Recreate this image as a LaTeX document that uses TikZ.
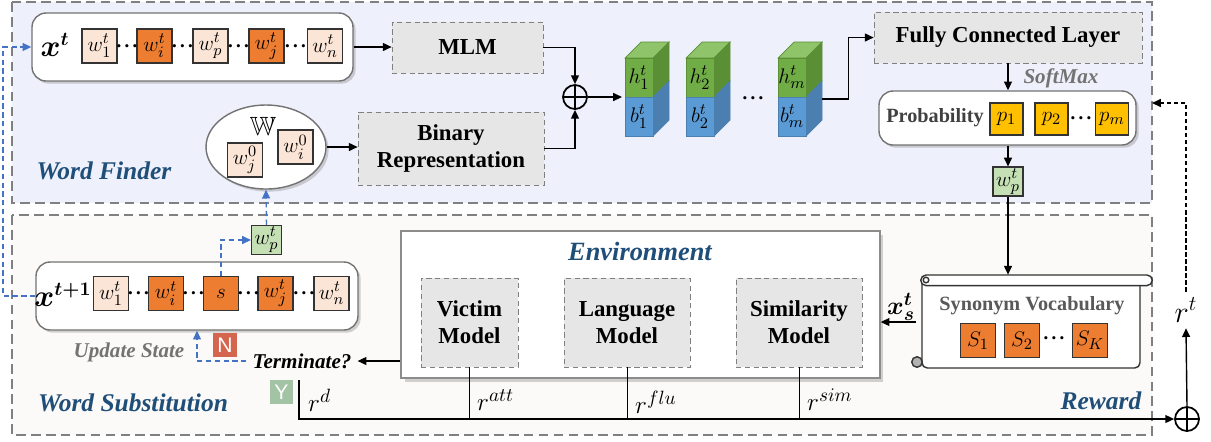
\documentclass[tikz,border=0pt]{standalone}
\usepackage{fontspec}
\usepackage{amsmath,amssymb,bm}
\setmainfont{Liberation Serif}
\setsansfont{Liberation Sans}
\usetikzlibrary{positioning,shapes.geometric,shadows,arrows.meta,calc}

\definecolor{finderbg}{HTML}{EEF0FB}
\definecolor{substbg}{HTML}{FBFAF8}
\definecolor{wlight}{HTML}{FBE5D6}
\definecolor{wdark}{HTML}{ED7D31}
\definecolor{wgreen}{HTML}{C5E0B4}
\definecolor{pgold}{HTML}{FFC000}
\definecolor{modelbg}{HTML}{E7E6E6}
\definecolor{dashblue}{HTML}{4472C4}
\definecolor{titleblue}{HTML}{1F4E79}
\definecolor{cubegreen}{HTML}{70AD47}
\definecolor{cubegreentop}{HTML}{8FC46A}
\definecolor{cubegreenside}{HTML}{5A8F36}
\definecolor{cubeblue}{HTML}{5B9BD5}
\definecolor{cubeblueside}{HTML}{4A7FB0}
\definecolor{notag}{HTML}{D4664F}
\definecolor{yestag}{HTML}{A2C3A4}

\tikzset{
  panel/.style={draw=gray, line width=1.1pt, dash pattern=on 5.5pt off 3pt},
  paneltitle/.style={font=\fontsize{14.5}{16}\selectfont\bfseries\itshape, text=titleblue},
  graylbl/.style={font=\fontsize{12}{14}\selectfont\bfseries\itshape, text=black!55},
  seqbox/.style={draw=black!55, line width=0.8pt, rounded corners=8pt, fill=white,
    drop shadow={shadow xshift=1.5pt, shadow yshift=-1.5pt, opacity=0.35}},
  word/.style={draw=black!80, line width=0.6pt, fill=wlight, minimum width=0.7cm,
    minimum height=0.68cm, inner sep=0pt, font=\fontsize{13}{15}\selectfont},
  wordhot/.style={word, fill=wdark},
  wordsel/.style={word, fill=wgreen, minimum width=0.6cm, minimum height=0.58cm},
  prob/.style={word, fill=pgold, minimum width=0.66cm, minimum height=0.64cm},
  model/.style={draw=black!50, dash pattern=on 3pt off 2pt, fill=modelbg, align=center,
    font=\fontsize{13}{15.5}\selectfont\bfseries},
  flow/.style={thick, -{Triangle[length=5pt,width=4.5pt]}},
  blueflow/.style={draw=dashblue, thick, dash pattern=on 3pt off 2pt,
    -{Triangle[length=5pt,width=4.5pt]}},
  tag/.style={text=white, font=\sffamily\fontsize{12}{12}\selectfont, minimum size=0.47cm, inner sep=0pt},
  dotsym/.style={inner sep=0pt, font=\fontsize{12}{14}\selectfont},
  sumnode/.style={circle, draw, line width=1pt, minimum size=0.48cm, inner sep=0pt,
    path picture={\draw[line width=1pt] (path picture bounding box.north) -- (path picture bounding box.south)
      (path picture bounding box.west) -- (path picture bounding box.east);}},
}
\newcommand{\tightdots}{$\bm{\cdot\!\cdot\!\cdot}$}

\begin{document}
\begin{tikzpicture}[x=0.02cm, y=-0.02cm]
  \useasboundingbox (0,0) rectangle (1211,441);

  % the two panels
  \draw[panel, fill=finderbg] (12,2) rectangle (1152,203);
  \draw[panel, fill=substbg] (12,215) rectangle (1152,435);
  \node[paneltitle] (finderlbl) at (104,171) {Word Finder};
  \node[paneltitle] (substlbl) at (133,403) {Word Substitution};
  \node[paneltitle] (rewardlbl) at (1101,401) {Reward};

  % state x^t
  \node[seqbox, minimum width=6.42cm, minimum height=1.36cm] (xt) at (192.5,47) {};
  \node[font=\fontsize{16}{18}\selectfont] (xtlbl) at (55,45) {$\bm{x}^{\bm{t}}$};
  \node[word] (xw1) at (99.5,46) {$w_1^t$};
  \node[wordhot] (xwi) at (154.5,46) {$w_i^t$};
  \node[word] (xwp) at (210.5,46) {$w_p^t$};
  \node[wordhot] (xwj) at (266.5,46) {$w_j^t$};
  \node[word] (xwn) at (325,46) {$w_n^t$};
  \foreach \dx in {127,182.5,238.5,295.5}
    \node[dotsym] at (\dx,46) {\tightdots};

  % word set W
  \node[ellipse, draw=black!55, line width=0.8pt, fill=white, minimum width=2.4cm, minimum height=1.68cm,
    drop shadow={shadow xshift=1.5pt, shadow yshift=-1.5pt, opacity=0.35}] (wset) at (266,147) {};
  \node[font=\fontsize{15}{17}\selectfont, inner sep=1pt] (wbb) at (263,126) {$\mathbb{W}$};
  \node[word] (w0j) at (245,160) {$w_j^0$};
  \node[word] (w0i) at (295.5,147) {$w_i^0$};

  % encoders
  \node[model, minimum width=3.02cm, minimum height=1.02cm] (mlm) at (467.5,47.5) {MLM};
  \node[model, minimum width=3.72cm, minimum height=1.46cm] (binrep) at (451,148.5) {Binary\\Representation};
  \node[sumnode] (sum) at (575,97) {};

  \draw[flow] (xt.east) -- (xt.east -| mlm.west);
  \draw[flow] (wset.east) -- (wset.east -| binrep.west);
  \draw[flow] (mlm.east) -| (sum.north);
  \draw[flow] (binrep.east) -| (sum.south);

  % hidden and binary cubes
  \foreach \cx/\k in {625/1, 686/2, 778/m}{
    \fill[cubegreentop, draw=cubegreenside] (\cx,58) -- (\cx+16,42) -- (\cx+44,42) -- (\cx+28,58) -- cycle;
    \fill[cubegreenside, draw=cubegreenside] (\cx+28,58) -- (\cx+44,42) -- (\cx+44,81) -- (\cx+28,97) -- cycle;
    \fill[cubeblueside, draw=cubeblueside] (\cx+28,97) -- (\cx+44,81) -- (\cx+44,120) -- (\cx+28,136) -- cycle;
    \fill[cubegreen, draw=cubegreenside] (\cx,58) rectangle (\cx+28,97);
    \fill[cubeblue, draw=cubeblueside] (\cx,97) rectangle (\cx+28,136);
    \node[font=\fontsize{13}{15}\selectfont] at (\cx+14,77.5) {$h_{\k}^t$};
    \node[font=\fontsize{13}{15}\selectfont] at (\cx+14,116.5) {$b_{\k}^t$};
  }
  \node[dotsym] (cdots) at (753,98) {\tightdots};
  \coordinate (cubein) at (622,97);
  \coordinate (cubeout) at (822,99);
  \draw[flow] (sum.east) -- (cubein);

  % fully connected layer and probabilities
  \node[model, minimum width=5.36cm, minimum height=1.02cm] (fc) at (1008,37.5) {Fully Connected Layer};
  \draw[flow] (cubeout) -| ($(fc.west)+(-25,0)$) -- (fc.west);
  \node[seqbox, minimum width=5.14cm, minimum height=1.08cm] (probbox) at (1007.5,118) {};
  \node[font=\fontsize{11.5}{13}\selectfont\bfseries, text=black!75] (problbl) at (935,118) {Probability};
  \node[prob] (p1) at (1006.5,119) {$p_1$};
  \node[prob] (p2) at (1051.5,119) {$p_2$};
  \node[dotsym] (pdots) at (1081,118) {\tightdots};
  \node[prob] (pm) at (1112,119) {$p_m$};
  \node[graylbl] (softmax) at (1061,78) {SoftMax};
  \draw[flow] (fc.south) -- (probbox.north -| fc.south);
  \node[wordsel] (wpt) at (1008,181.5) {$w_p^t$};
  \draw[flow] (probbox.south -| wpt.north) -- (wpt.north);

  % synonym vocabulary scroll
  \node[minimum width=4.6cm, minimum height=1.86cm] (syn) at (1031,321.5) {};
  \draw[black!80, thick, fill=white, rounded corners=3pt] (922,280) -- (922,368) -- (1140,368) -- (1140,282);
  \draw[black!80, thick, fill=white] (926,275) -- (1147,275) arc[start angle=90, end angle=-90, radius=3pt]
    -- (926,285.6) arc[start angle=-90, end angle=-270, radius=3pt] -- cycle;
  \draw[black!80, thick] (926,280) circle[radius=1.6pt];
  \draw[black!80, thick, fill=black!30] (917,362) circle[radius=3pt];
  \node[font=\fontsize{11.5}{13}\selectfont\bfseries, text=black!65] (synlbl) at (1032,306) {Synonym Vocabulary};
  \node[wordhot] (s1) at (978,340.5) {$S_1$};
  \node[wordhot] (s2) at (1022,340.5) {$S_2$};
  \node[dotsym] (sdots) at (1054,338) {\tightdots};
  \node[wordhot] (sk) at (1090,340.5) {$S_K$};
  \draw[flow] (wpt.south) -- (wpt.south |- syn.north);

  % environment
  \node[draw=black!45, line width=0.8pt, fill=white, minimum width=9.58cm, minimum height=2.94cm,
    drop shadow={shadow xshift=2pt, shadow yshift=-2pt, opacity=0.35}] (env) at (640.5,304.5) {};
  \node[paneltitle, font=\fontsize{15}{17}\selectfont\bfseries\itshape] (envlbl) at (640,251) {Environment};
  \node[model, minimum width=1.94cm, minimum height=1.78cm] (victim) at (469.5,322.5) {Victim\\Model};
  \node[model, minimum width=2.52cm, minimum height=1.78cm] (langm) at (627,322.5) {Language\\Model};
  \node[model, minimum width=2.52cm, minimum height=1.78cm] (simm) at (799,322.5) {Similarity\\Model};
  \draw[flow] (syn.west |- 0,322) -- (env.east |- 0,322);
  \node[font=\fontsize{15}{17}\selectfont] (xst) at (901,307) {$\bm{x_s^t}$};

  % next state x^{t+1}
  \node[seqbox, minimum width=6.44cm, minimum height=1.36cm] (xt1) at (197,296) {};
  \node[font=\fontsize{16}{18}\selectfont, inner sep=1pt] (xt1lbl) at (63,295) {$\bm{x}^{\bm{t+1}}$};
  \node[word] (yw1) at (111,293.5) {$w_1^t$};
  \node[wordhot] (ywi) at (166,293.5) {$w_i^t$};
  \node[wordhot] (ys) at (221,293.5) {$s$};
  \node[wordhot] (ywj) at (275.5,293.5) {$w_j^t$};
  \node[word] (ywn) at (331.5,293.5) {$w_n^t$};
  \foreach \dx in {138.5,193.5,248.5,304}
    \node[dotsym] at (\dx,293.5) {\tightdots};
  \node[wordsel] (wpt2) at (266.5,240) {$w_p^t$};
  \draw[blueflow] (ys.north) |- (wpt2.west);
  \draw[blueflow] (wpt2.north) -- (wset.south);
  \draw[blueflow] (xt1.west) -- (3,296) |- (xt.west);

  % termination
  \node[font=\fontsize{12}{14}\selectfont\bfseries\itshape] (term) at (302,361) {Terminate?};
  \node[graylbl] (updlbl) at (129,352) {Update State};
  \node[tag, fill=notag] (ntag) at (225,345) {N};
  \node[tag, fill=yestag] (ytag) at (281.5,392) {Y};
  \draw[flow] (env.west |- term.east) -- (term.east);
  \draw[blueflow] (term.west) -| (xt1.south);

  % rewards
  \node[sumnode] (sum2) at (1187,419) {};
  \coordinate (rdtop) at (299,380);
  \draw[flow] (rdtop) |- (sum2.west);
  \draw (victim.south) -- (victim.south |- sum2.west);
  \draw (langm.south) -- (langm.south |- sum2.west);
  \draw (simm.south) -- (simm.south |- sum2.west);
  \node[font=\fontsize{15}{17}\selectfont, anchor=west] (rd) at (302,400) {$r^d$};
  \node[font=\fontsize{15}{17}\selectfont, anchor=west] (ratt) at (471,400) {$r^{att}$};
  \node[font=\fontsize{15}{17}\selectfont, anchor=west] (rflu) at (629,402) {$r^{flu}$};
  \node[font=\fontsize{15}{17}\selectfont, anchor=west] (rsim) at (801,400) {$r^{sim}$};
  \node[font=\fontsize{17}{19}\selectfont] (rt) at (1186,310) {$r^t$};
  \coordinate (rtin) at (1152,103);
  \draw[flow] (sum2.north) -- (rt.south);
  \draw[thick, dash pattern=on 2.5pt off 1.5pt, -{Triangle[length=5pt,width=4.5pt]}] (rt.north) |- (rtin);
\end{tikzpicture}
\end{document}
